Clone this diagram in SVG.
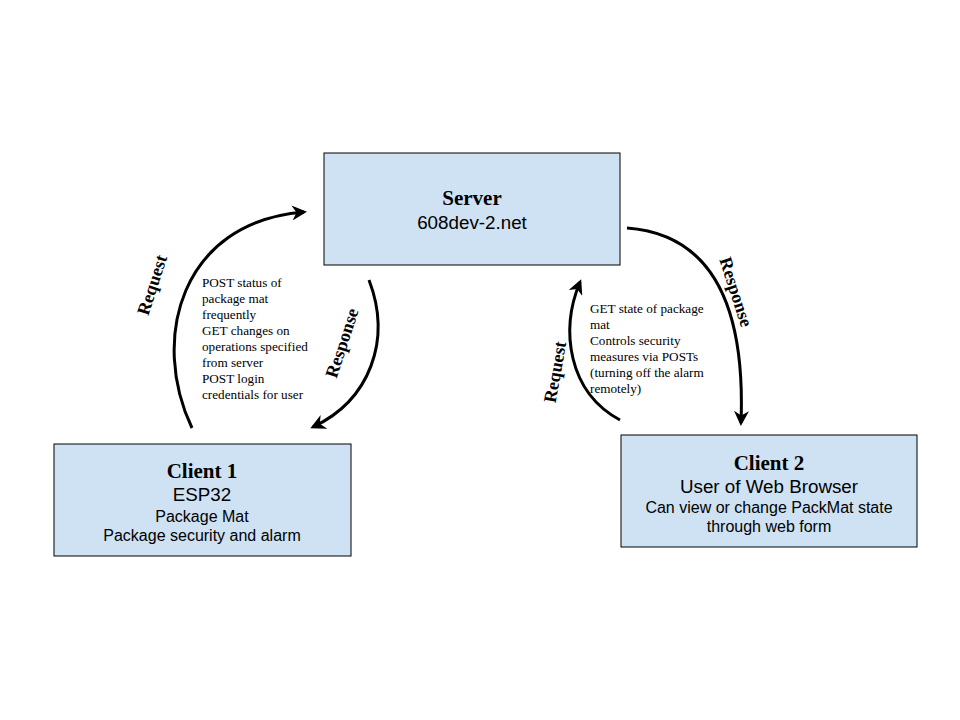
<svg xmlns="http://www.w3.org/2000/svg" width="960" height="720" viewBox="0 0 960 720">
<style>
.box{fill:#cfe2f3;stroke:#000;stroke-width:1}
.t{font-family:"Liberation Serif",serif;font-weight:bold;font-size:21px;text-anchor:middle;fill:#000}
.s{font-family:"Liberation Sans",Arial,sans-serif;text-anchor:middle;fill:#000}
.lbl{font-family:"Liberation Serif",serif;font-weight:bold;font-size:18px;text-anchor:middle;fill:#000}
.note{font-family:"Liberation Serif",serif;font-size:13.2px;fill:#000}
.c{fill:none;stroke:#000;stroke-width:3}
</style>
<defs>
<marker id="ah" viewBox="0 0 10 10" refX="8" refY="5" markerWidth="5" markerHeight="5" orient="auto" markerUnits="strokeWidth">
<path d="M0,0 L10,5 L0,10 L3,5 Z" fill="#000"/>
</marker>
</defs>
<rect width="960" height="720" fill="#fff"/>
<g id="server">
<rect class="box" x="324" y="153" width="296" height="112"/>
<text class="t" x="472" y="205">Server</text>
<text class="s" x="472" y="229" font-size="18.8">608dev-2.net</text>
</g>
<g id="client1">
<rect class="box" x="54" y="444" width="297" height="112"/>
<text class="t" x="202" y="478">Client 1</text>
<text class="s" x="202" y="501" font-size="18.8">ESP32</text>
<text class="s" x="202" y="522" font-size="16">Package Mat</text>
<text class="s" x="202" y="541" font-size="16">Package security and alarm</text>
</g>
<g id="client2">
<rect class="box" x="621" y="435" width="296" height="112"/>
<text class="t" x="769" y="470">Client 2</text>
<text class="s" x="769" y="493" font-size="18.8">User of Web Browser</text>
<text class="s" x="769" y="513" font-size="16">Can view or change PackMat state</text>
<text class="s" x="769" y="532" font-size="16">through web form</text>
</g>
<g id="connectors">
<path class="c" d="M192,428 C150,340 180,222 304,212" marker-end="url(#ah)"/>
<path class="c" d="M369,280 C392,340 370,400 313,427" marker-end="url(#ah)"/>
<path class="c" d="M620,420 C568,392 560,330 580,282" marker-end="url(#ah)"/>
<path class="c" d="M627,228 C720,235 745,320 741,423" marker-end="url(#ah)"/>
</g>
<g id="labels">
<text class="lbl" transform="translate(152,285) rotate(-72)" y="6">Request</text>
<text class="lbl" transform="translate(342,343) rotate(-72)" y="6">Response</text>
<text class="lbl" transform="translate(736,292) rotate(72)" y="6">Response</text>
<text class="lbl" transform="translate(555,372) rotate(-80)" y="6">Request</text>
</g>
<g id="notes">
<text class="note" x="202" y="287">POST status of</text>
<text class="note" x="202" y="303">package mat</text>
<text class="note" x="202" y="319">frequently</text>
<text class="note" x="202" y="335">GET changes on</text>
<text class="note" x="202" y="351">operations specified</text>
<text class="note" x="202" y="367">from server</text>
<text class="note" x="202" y="383">POST login</text>
<text class="note" x="202" y="399">credentials for user</text>
<text class="note" x="590" y="313">GET state of package</text>
<text class="note" x="590" y="329">mat</text>
<text class="note" x="590" y="345">Controls security</text>
<text class="note" x="590" y="361">measures via POSTs</text>
<text class="note" x="590" y="377">(turning off the alarm</text>
<text class="note" x="590" y="393">remotely)</text>
</g>
</svg>
